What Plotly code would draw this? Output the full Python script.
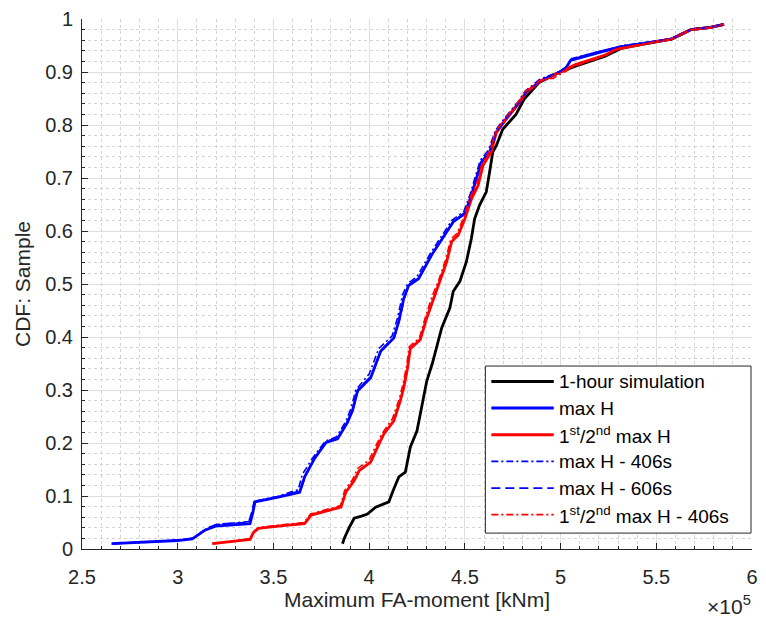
import plotly.graph_objects as go

# Empirical CDF curves of the maximum fore-aft tower moment.
# x values in units of 10^5 kNm, y values are the sample CDF.

hour_x = [3.861, 3.870, 3.895, 3.922, 3.960, 3.991, 4.034, 4.103, 4.125, 4.155, 4.189, 4.200,
          4.215, 4.250, 4.265, 4.284, 4.301, 4.330, 4.353, 4.379, 4.422, 4.439, 4.474, 4.508,
          4.534, 4.551, 4.577, 4.612, 4.629, 4.646, 4.664, 4.698, 4.767, 4.810, 4.888, 4.991,
          5.078, 5.233, 5.319, 5.492, 5.578, 5.630, 5.682, 5.785, 5.854]
hour_y = [0.010, 0.020, 0.040, 0.058, 0.062, 0.066, 0.079, 0.089, 0.110, 0.136, 0.145, 0.165,
          0.192, 0.223, 0.250, 0.280, 0.317, 0.350, 0.380, 0.417, 0.455, 0.486, 0.505, 0.542,
          0.586, 0.623, 0.649, 0.674, 0.711, 0.749, 0.761, 0.792, 0.820, 0.849, 0.880, 0.899,
          0.911, 0.930, 0.945, 0.957, 0.962, 0.971, 0.980, 0.984, 0.990]

maxh_x = [2.654, 2.850, 3.000, 3.076, 3.110, 3.145, 3.197, 3.378, 3.390, 3.404, 3.525, 3.637,
          3.663, 3.715, 3.775, 3.835, 3.887, 3.913, 3.939, 4.008, 4.060, 4.129, 4.155, 4.181,
          4.206, 4.258, 4.327, 4.405, 4.439, 4.500, 4.534, 4.560, 4.586, 4.629, 4.664, 4.715,
          4.784, 4.819, 4.896, 4.991, 5.026, 5.052, 5.146, 5.233, 5.319, 5.492, 5.578, 5.630,
          5.682, 5.785, 5.854]
maxh_y = [0.010, 0.013, 0.016, 0.019, 0.028, 0.036, 0.043, 0.048, 0.065, 0.089, 0.098, 0.107,
          0.136, 0.171, 0.201, 0.208, 0.239, 0.261, 0.298, 0.323, 0.373, 0.398, 0.430, 0.473,
          0.497, 0.510, 0.555, 0.598, 0.617, 0.633, 0.667, 0.699, 0.730, 0.749, 0.786, 0.811,
          0.842, 0.861, 0.883, 0.899, 0.906, 0.922, 0.932, 0.940, 0.948, 0.957, 0.962, 0.971,
          0.980, 0.984, 0.990]

max12_x = [3.180, 3.300, 3.378, 3.395, 3.421, 3.550, 3.663, 3.697, 3.853, 3.878, 3.922, 3.948,
           4.008, 4.051, 4.077, 4.129, 4.146, 4.163, 4.181, 4.200, 4.215, 4.267, 4.301, 4.336,
           4.370, 4.405, 4.431, 4.465, 4.500, 4.534, 4.569, 4.595, 4.638, 4.664, 4.715, 4.784,
           4.819, 4.896, 4.974, 5.078, 5.233, 5.285, 5.492, 5.578, 5.630, 5.682, 5.785, 5.854]
max12_y = [0.010, 0.014, 0.018, 0.031, 0.039, 0.044, 0.048, 0.064, 0.079, 0.107, 0.129, 0.148,
           0.164, 0.198, 0.217, 0.242, 0.261, 0.280, 0.305, 0.340, 0.378, 0.395, 0.436, 0.473,
           0.505, 0.542, 0.580, 0.592, 0.623, 0.660, 0.686, 0.724, 0.749, 0.786, 0.811, 0.842,
           0.861, 0.883, 0.896, 0.914, 0.932, 0.942, 0.957, 0.962, 0.971, 0.980, 0.984, 0.990]

maxh406_x = [2.660, 2.860, 3.000, 3.080, 3.115, 3.150, 3.200, 3.375, 3.392, 3.400, 3.520, 3.630,
             3.650, 3.705, 3.770, 3.830, 3.880, 3.905, 3.930, 4.000, 4.050, 4.120, 4.148, 4.175,
             4.200, 4.250, 4.320, 4.398, 4.432, 4.495, 4.528, 4.555, 4.580, 4.622, 4.660, 4.710,
             4.780, 4.815, 4.890, 4.990, 5.030, 5.056, 5.150, 5.240, 5.325, 5.495, 5.580, 5.632,
             5.684, 5.788, 5.850]
maxh406_y = [0.010, 0.013, 0.017, 0.020, 0.030, 0.038, 0.046, 0.052, 0.070, 0.090, 0.099, 0.112,
             0.140, 0.172, 0.203, 0.212, 0.242, 0.265, 0.300, 0.330, 0.378, 0.402, 0.436, 0.480,
             0.500, 0.514, 0.558, 0.600, 0.620, 0.637, 0.670, 0.703, 0.733, 0.752, 0.790, 0.814,
             0.845, 0.864, 0.886, 0.900, 0.910, 0.925, 0.934, 0.942, 0.950, 0.958, 0.963, 0.972,
             0.981, 0.985, 0.990]

maxh606_x = [2.670, 2.870, 3.010, 3.085, 3.120, 3.155, 3.210, 3.370, 3.385, 3.398, 3.515, 3.640,
             3.668, 3.720, 3.780, 3.840, 3.892, 3.918, 3.945, 4.015, 4.065, 4.133, 4.160, 4.188,
             4.212, 4.262, 4.332, 4.410, 4.444, 4.505, 4.538, 4.563, 4.590, 4.632, 4.668, 4.718,
             4.788, 4.822, 4.900, 4.995, 5.030, 5.058, 5.150, 5.238, 5.322, 5.494, 5.580, 5.633,
             5.686, 5.790, 5.856]
maxh606_y = [0.010, 0.014, 0.017, 0.021, 0.031, 0.040, 0.047, 0.050, 0.068, 0.088, 0.097, 0.110,
             0.138, 0.176, 0.204, 0.210, 0.244, 0.266, 0.303, 0.328, 0.376, 0.401, 0.434, 0.478,
             0.500, 0.513, 0.559, 0.602, 0.620, 0.636, 0.670, 0.702, 0.732, 0.751, 0.788, 0.813,
             0.844, 0.863, 0.885, 0.901, 0.908, 0.924, 0.934, 0.942, 0.949, 0.958, 0.963, 0.972,
             0.981, 0.985, 0.990]

max12_406_x = [3.185, 3.305, 3.380, 3.398, 3.425, 3.555, 3.660, 3.694, 3.850, 3.872, 3.915, 3.940,
               4.000, 4.045, 4.072, 4.122, 4.140, 4.158, 4.176, 4.195, 4.210, 4.262, 4.296, 4.330,
               4.364, 4.400, 4.426, 4.460, 4.495, 4.528, 4.562, 4.590, 4.632, 4.660, 4.712, 4.780,
               4.815, 4.892, 4.960, 4.985, 5.075, 5.230, 5.288, 5.490, 5.576, 5.628, 5.680, 5.784,
               5.852]
max12_406_y = [0.010, 0.015, 0.020, 0.033, 0.041, 0.046, 0.050, 0.066, 0.082, 0.110, 0.132, 0.152,
               0.168, 0.202, 0.220, 0.246, 0.265, 0.284, 0.310, 0.344, 0.382, 0.398, 0.440, 0.478,
               0.508, 0.546, 0.584, 0.596, 0.627, 0.664, 0.690, 0.728, 0.752, 0.788, 0.813, 0.844,
               0.863, 0.884, 0.888, 0.893, 0.911, 0.930, 0.944, 0.957, 0.962, 0.971, 0.980, 0.984,
               0.990]

x_ticks = [2.5, 3, 3.5, 4, 4.5, 5, 5.5, 6]
x_tick_text = ["2.5", "3", "3.5", "4", "4.5", "5", "5.5", "6"]

BLUE = "#0000ff"
RED = "#ff0000"
BLACK = "#000000"
INK = "#262626"
FONT = "Liberation Sans, Arial, sans-serif"

series = [
    ("1-hour simulation", hour_x, hour_y, BLACK, "solid", 2.8),
    ("max H", maxh_x, maxh_y, BLUE, "solid", 2.8),
    ("1<sup>st</sup>/2<sup>nd</sup> max H", max12_x, max12_y, RED, "solid", 2.8),
    ("max H - 406s", maxh406_x, maxh406_y, BLUE, "7px,3px,2px,3px", 1.6),
    ("max H - 606s", maxh606_x, maxh606_y, BLUE, "9px,5px", 1.6),
    ("1<sup>st</sup>/2<sup>nd</sup> max H - 406s", max12_406_x, max12_406_y, RED, "7px,3px,2px,3px", 1.6),
]

fig = go.Figure()
for name, xs, ys, color, dash, width in series:
    fig.add_trace(go.Scatter(x=xs, y=ys, mode="lines", name=name, showlegend=False,
                             line=dict(color=color, dash=dash, width=width)))

W, H = 766, 618
L, R, T, B = 82, 8, 16, 69
pw, ph = W - L - R, H - T - B


def px_x(p):
    return (p - L) / pw


def px_y(p):
    return (H - B - p) / ph


# Legend box drawn by hand so the line samples get MATLAB-like length
shapes = [dict(type="rect", xref="paper", yref="paper",
               x0=px_x(489), x1=px_x(757), y0=px_y(533), y1=px_y(365),
               line=dict(color=INK, width=1), fillcolor="white", layer="above")]
annotations = []
row0, step = 380.5, 26.8
for i, (name, xs, ys, color, dash, width) in enumerate(series):
    yy = px_y(row0 + i * step)
    lw = 3 if dash == "solid" else 1.7
    shapes.append(dict(type="line", xref="paper", yref="paper",
                       x0=px_x(495), x1=px_x(558), y0=yy, y1=yy,
                       line=dict(color=color, dash=dash, width=lw), layer="above"))
    annotations.append(dict(xref="paper", yref="paper", x=px_x(561), y=yy,
                            xanchor="left", yanchor="middle", text=name, showarrow=False,
                            font=dict(family=FONT, size=19, color=BLACK)))

# axis exponent label under the right end of the x axis
annotations.append(dict(xref="paper", yref="paper", x=px_x(711), y=px_y(605),
                        xanchor="left", yanchor="middle", text="\u00d710<sup>5</sup>",
                        showarrow=False, font=dict(family=FONT, size=21, color=INK)))

axis_common = dict(showline=True, linecolor=INK, linewidth=1, mirror=False,
                   ticks="inside", ticklen=6, tickcolor=INK, zeroline=False,
                   showgrid=True, gridcolor="#dedede", gridwidth=1,
                   tickfont=dict(family=FONT, size=20, color=INK))

fig.update_layout(
    width=W, height=H,
    margin=dict(l=L, r=R, t=T, b=B),
    paper_bgcolor="white", plot_bgcolor="white",
    font=dict(family=FONT, color=INK),
    xaxis=dict(range=[2.5, 6], tickvals=x_ticks, ticktext=x_tick_text,
               ticklabelstandoff=10,
               minor=dict(dtick=0.1, showgrid=True, gridcolor="#d4d4d4", griddash="dot",
                          gridwidth=1, ticks="inside", ticklen=3, tickcolor=INK),
               title=dict(text="Maximum FA-moment [kNm]", standoff=4,
                          font=dict(family=FONT, size=21, color=INK)),
               **axis_common),
    yaxis=dict(range=[0, 1], dtick=0.1, ticklabelstandoff=4,
               minor=dict(dtick=0.02, showgrid=True, gridcolor="#d4d4d4", griddash="dot",
                          gridwidth=1, ticks="inside", ticklen=3, tickcolor=INK),
               title=dict(text="CDF: Sample", standoff=8,
                          font=dict(family=FONT, size=21, color=INK)),
               **axis_common),
    shapes=shapes,
    annotations=annotations,
    showlegend=False,
)

fig.write_html("out.html")
